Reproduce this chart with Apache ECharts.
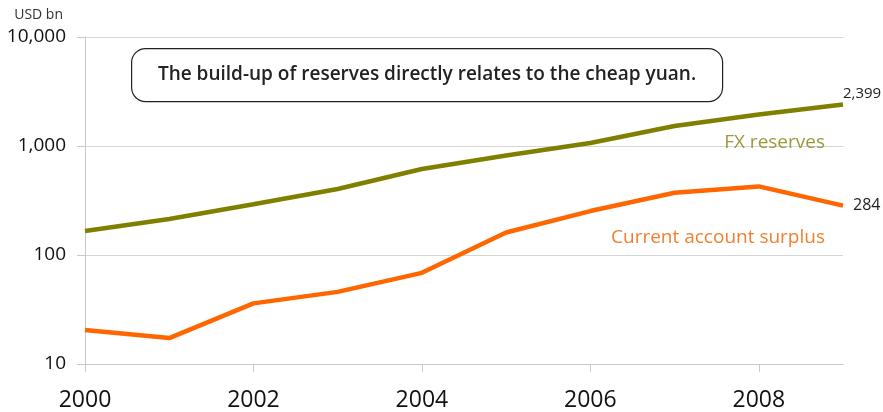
<!DOCTYPE html>
<html>
<head>
<meta charset="utf-8">
<script src="https://cdn.jsdelivr.net/npm/echarts@6/dist/echarts.min.js"></script>
<style>html,body{margin:0;padding:0;background:#fff}#c{width:883px;height:412px}</style>
</head>
<body>
<div id="c"></div>
<script>
const years = ['2000','2001','2002','2003','2004','2005','2006','2007','2008','2009'];
const fxReserves = [166, 214, 292, 403, 615, 819, 1066, 1528, 1946, 2399];
const currentAccount = [20.5, 17.3, 36, 45.9, 68.6, 160.8, 253, 372, 426, 284];
const yTicks = [10, 100, 1000, 10000];
const FONT = '"Open Sans", "Noto Sans", sans-serif';

const chart = echarts.init(document.getElementById('c'));
chart.setOption({
  animation: false,
  grid: {left: 85, right: 40, top: 37, bottom: 48, containLabel: false},
  xAxis: {
    type: 'category', data: years, boundaryGap: false,
    axisLine: {lineStyle: {color: '#c8c8c8', width: 1}},
    axisTick: {show: true, interval: 1, length: 8, lineStyle: {color: '#c8c8c8'}},
    axisLabel: {interval: 1, color: '#111', fontSize: 23, fontFamily: FONT, margin: 25},
    splitLine: {show: false}
  },
  yAxis: {
    type: 'log', logBase: 10, min: 10, max: 10000,
    name: 'USD bn', nameLocation: 'end', nameGap: 15,
    nameTextStyle: {color: '#333', fontSize: 14, fontFamily: FONT, align: 'right', padding: [0, 22, 0, 0]},
    axisLine: {show: true, lineStyle: {color: '#c8c8c8'}},
    axisTick: {show: true, length: 8, lineStyle: {color: '#c8c8c8'}},
    axisLabel: {color: '#111', fontSize: 19, fontFamily: FONT, margin: 19,
      formatter: v => yTicks.indexOf(v) >= 0 ? v.toLocaleString('en-US') : ''},
    splitLine: {show: true, lineStyle: {color: '#d6d6d6', width: 1}}
  },
  series: [
    {
      name: 'FX reserves', type: 'line', data: fxReserves, showSymbol: false,
      lineStyle: {color: '#808000', width: 4.5}, itemStyle: {color: '#808000'},
      endLabel: {show: true, formatter: p => p.value.toLocaleString('en-US'), color: '#222', fontSize: 15, fontFamily: FONT, offset: [0, -11], distance: 0}
    },
    {
      name: 'Current account surplus', type: 'line', data: currentAccount, showSymbol: false,
      lineStyle: {color: '#ff6600', width: 4.5}, itemStyle: {color: '#ff6600'},
      endLabel: {show: true, formatter: p => p.value.toLocaleString('en-US'), color: '#222', fontSize: 16, fontFamily: FONT, offset: [2, 0]}
    }
  ],
  graphic: [
    {type: 'rect', left: 131, top: 48, shape: {width: 591, height: 53, r: 14},
     style: {fill: '#fff', stroke: '#222', lineWidth: 1.2}, z: 10},
    {type: 'text', x: 427, y: 75,
     style: {text: 'The build-up of reserves directly relates to the cheap yuan.', fill: '#222', font: '600 19px ' + FONT, align: 'center', verticalAlign: 'middle'}, z: 11},
    {type: 'text', x: 825, y: 143,
     style: {text: 'FX reserves', fill: '#9a9a3a', font: '19px ' + FONT, align: 'right', verticalAlign: 'middle'}, z: 11},
    {type: 'text', x: 825, y: 238,
     style: {text: 'Current account surplus', fill: '#f08030', font: '19px ' + FONT, align: 'right', verticalAlign: 'middle'}, z: 11}
  ]
});
</script>
</body>
</html>
